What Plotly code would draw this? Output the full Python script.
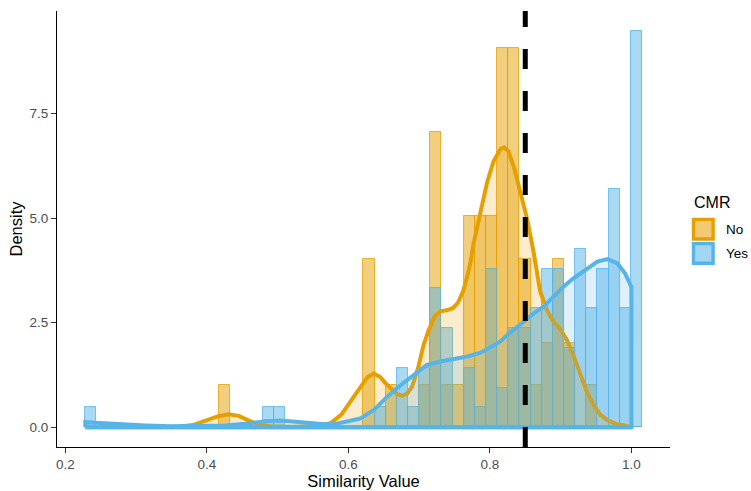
import plotly.graph_objects as go

# ---- histogram: 50 equal-width bins of similarity value ----
BIN_START = 0.2274
BIN_WIDTH = 0.015754
N_BINS = 50

# counts per bin index, by CMR group
no_counts = {12: 1, 25: 4, 27: 1, 30: 1, 31: 7, 32: 1, 33: 1, 34: 5, 35: 5,
             36: 5, 37: 9, 38: 9, 39: 4, 40: 1, 41: 2, 42: 4, 43: 2, 45: 1}
yes_counts = {0: 1, 16: 1, 17: 1, 26: 1, 28: 3, 29: 1, 30: 3, 31: 7, 32: 5,
              34: 3, 35: 1, 36: 8, 37: 2, 38: 5, 39: 5, 40: 6, 41: 8, 42: 8,
              43: 4, 44: 9, 45: 6, 46: 8, 47: 12, 48: 6, 49: 20}

# kernel density estimates, sampled along x
no_curve_x = [0.228, 0.30, 0.36, 0.38, 0.40, 0.415, 0.43, 0.445, 0.46, 0.475,
              0.49, 0.52, 0.56, 0.575, 0.59, 0.605, 0.617, 0.627, 0.636, 0.645,
              0.652, 0.66, 0.668, 0.676, 0.683, 0.69, 0.699, 0.706, 0.713, 0.722,
              0.73, 0.74, 0.748, 0.755, 0.762, 0.768, 0.772, 0.777, 0.787, 0.796,
              0.805, 0.815, 0.82, 0.826, 0.834, 0.843, 0.853, 0.862, 0.871, 0.881,
              0.89, 0.90, 0.909, 0.918, 0.928, 0.937, 0.947, 0.956, 0.966, 0.978,
              0.99, 1.0]
no_curve_y = [0.0, 0.0, 0.01, 0.05, 0.16, 0.26, 0.31, 0.27, 0.15, 0.06,
              0.02, 0.01, 0.03, 0.10, 0.30, 0.65, 0.97, 1.20, 1.28, 1.20,
              1.06, 0.92, 0.80, 0.75, 0.80, 0.97, 1.45, 1.95, 2.30, 2.65,
              2.77, 2.80, 2.85, 2.98, 3.25, 3.60, 3.90, 4.40, 5.11, 5.85,
              6.35, 6.65, 6.69, 6.60, 6.22, 5.59, 4.95, 4.16, 3.25, 2.78,
              2.52, 2.33, 2.08, 1.72, 1.25, 0.85, 0.52, 0.30, 0.17, 0.08,
              0.04, 0.02]

yes_curve_x = [0.228, 0.249, 0.277, 0.313, 0.348, 0.391, 0.426, 0.454, 0.482, 0.504,
               0.525, 0.546, 0.567, 0.582, 0.596, 0.617, 0.636, 0.655, 0.674, 0.693,
               0.711, 0.73, 0.749, 0.768, 0.787, 0.805, 0.815, 0.824, 0.843, 0.848,
               0.862, 0.876, 0.89, 0.904, 0.918, 0.937, 0.952, 0.966, 0.98, 0.991,
               1.0]
yes_curve_y = [0.12, 0.10, 0.07, 0.04, 0.02, 0.02, 0.04, 0.08, 0.14, 0.16,
               0.14, 0.10, 0.07, 0.08, 0.13, 0.21, 0.41, 0.73, 1.01, 1.25,
               1.49, 1.57, 1.62, 1.69, 1.78, 1.97, 2.05, 2.20, 2.44, 2.52,
               2.72, 2.88, 3.12, 3.36, 3.56, 3.80, 3.96, 4.02, 3.92, 3.68,
               3.35]

THRESHOLD = 0.85

x_ticks = [0.2, 0.4, 0.6, 0.8, 1.0]
x_labels = ["0.2", "0.4", "0.6", "0.8", "1.0"]
y_ticks = [0.0, 2.5, 5.0, 7.5]
y_labels = ["0.0", "2.5", "5.0", "7.5"]

ORANGE = "#E69F00"
BLUE = "#56B4E9"
FONT = "Liberation Sans, Arial, sans-serif"

W, H = 751, 491
M_L, M_R, M_T, M_B = 57, 81, 11, 44
PW, PH = W - M_L - M_R, H - M_T - M_B


def rgba(hex_color, a):
    h = hex_color.lstrip("#")
    r, g, b = int(h[0:2], 16), int(h[2:4], 16), int(h[4:6], 16)
    return f"rgba({r},{g},{b},{a})"


def bin_density(counts):
    n = sum(counts.values())
    return [counts.get(i, 0) / (n * BIN_WIDTH) for i in range(N_BINS)]


centers = [BIN_START + (i + 0.5) * BIN_WIDTH for i in range(N_BINS)]

fig = go.Figure()

for counts, col in ((no_counts, ORANGE), (yes_counts, BLUE)):
    fig.add_trace(go.Bar(
        x=centers, y=bin_density(counts), width=BIN_WIDTH,
        marker=dict(color=rgba(col, 0.5), line=dict(color=rgba(col, 0.9), width=0.9)),
        showlegend=False, hoverinfo="skip",
    ))

# density polygons closed down to the baseline
for cx, cy, col in ((no_curve_x, no_curve_y, ORANGE), (yes_curve_x, yes_curve_y, BLUE)):
    fig.add_trace(go.Scatter(
        x=[cx[0]] + cx + [cx[-1], cx[0]],
        y=[0] + cy + [0, 0],
        mode="lines", fill="toself", fillcolor=rgba(col, 0.2),
        line=dict(color=col, width=4), showlegend=False, hoverinfo="skip",
    ))

fig.add_shape(type="line", xref="x", yref="paper", x0=THRESHOLD, x1=THRESHOLD,
              y0=0, y1=1, line=dict(color="black", width=5, dash="20px,22px"),
              layer="above")


def px_x(px):
    return (px - M_L) / PW


def px_y(py):
    return (H - M_B - py) / PH


# legend: title, keys and labels
fig.add_annotation(x=px_x(692), y=px_y(202.5), xref="paper", yref="paper",
                   text="CMR", showarrow=False, xanchor="left", yanchor="middle",
                   font=dict(family=FONT, size=16, color="black"))
for label, col, cy in (("No", ORANGE, 229.2), ("Yes", BLUE, 253.4)):
    fig.add_shape(type="rect", xref="paper", yref="paper",
                  x0=px_x(703.3 - 9.8), x1=px_x(703.3 + 9.8),
                  y0=px_y(cy + 9.8), y1=px_y(cy - 9.8),
                  fillcolor=rgba(col, 0.55), line=dict(color=col, width=3.4))
    fig.add_annotation(x=px_x(724), y=px_y(cy), xref="paper", yref="paper",
                       text=label, showarrow=False, xanchor="left", yanchor="middle",
                       font=dict(family=FONT, size=13.5, color="black"))

axis_common = dict(
    showgrid=False, zeroline=False, showline=True, linecolor="black", linewidth=1.1,
    ticks="outside", ticklen=5, tickwidth=1.1, tickcolor="#333333",
    tickfont=dict(family=FONT, size=13.5, color="#4D4D4D"),
)

fig.update_layout(
    width=W, height=H,
    margin=dict(l=M_L, r=M_R, t=M_T, b=M_B, autoexpand=False),
    paper_bgcolor="white", plot_bgcolor="white",
    barmode="overlay", bargap=0,
    showlegend=False,
    xaxis=dict(range=[0.188, 1.0546], tickvals=x_ticks, ticktext=x_labels,
               title=dict(text="Similarity Value", standoff=2,
                          font=dict(family=FONT, size=16.5, color="black")),
               automargin=False, **axis_common),
    yaxis=dict(range=[-0.4737, 9.948], tickvals=y_ticks, ticktext=y_labels,
               title=dict(text="Density", standoff=2,
                          font=dict(family=FONT, size=16.5, color="black")),
               automargin=False, **axis_common),
)

fig.write_html("out.html")
